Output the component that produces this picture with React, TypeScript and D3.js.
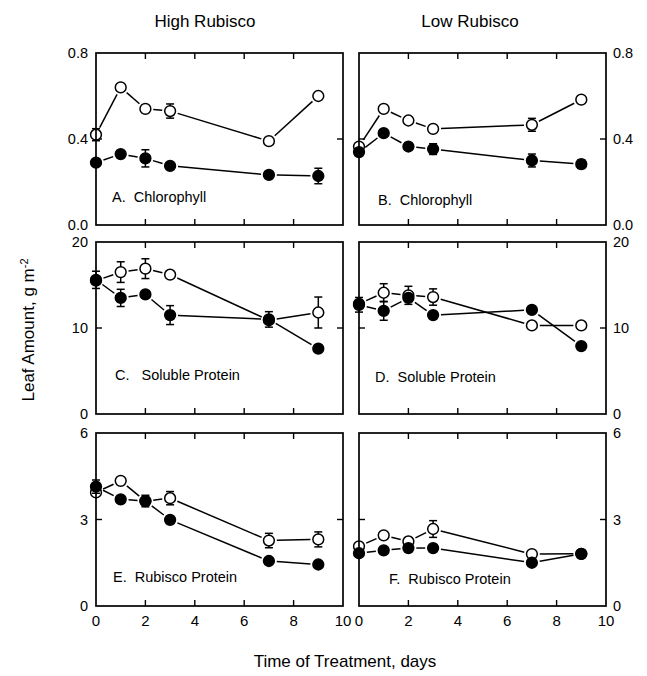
import * as d3 from "d3";

// days sampled
const days = [0, 1, 2, 3, 7, 9];
const xTicks = [0, 2, 4, 6, 8, 10];

// A. Chlorophyll, High Rubisco
const chlHighOpen = [0.42, 0.64, 0.54, 0.53, 0.39, 0.6];
const chlHighOpenErr = [0.028, 0, 0, 0.033, 0, 0];
const chlHighFilled = [0.29, 0.33, 0.31, 0.275, 0.233, 0.228];
const chlHighFilledErr = [0, 0, 0.04, 0, 0, 0.036];

// B. Chlorophyll, Low Rubisco
const chlLowOpen = [0.365, 0.54, 0.486, 0.447, 0.466, 0.583];
const chlLowOpenErr = [0, 0, 0, 0, 0.03, 0];
const chlLowFilled = [0.339, 0.427, 0.365, 0.353, 0.3, 0.283];
const chlLowFilledErr = [0, 0, 0, 0.025, 0.03, 0.02];

// C. Soluble protein, High Rubisco
const solHighOpen = [15.5, 16.5, 16.9, 16.2, 10.9, 11.8];
const solHighOpenErr = [0, 1.2, 1.15, 0, 0, 1.8];
const solHighFilled = [15.6, 13.5, 13.9, 11.5, 11.0, 7.6];
const solHighFilledErr = [1.0, 1.0, 0, 1.1, 0.9, 0];

// D. Soluble protein, Low Rubisco
const solLowOpen = [12.8, 14.1, 13.8, 13.6, 10.3, 10.3];
const solLowOpenErr = [0, 1.05, 1.05, 0.95, 0, 0];
const solLowFilled = [12.7, 12.0, 13.5, 11.5, 12.1, 7.9];
const solLowFilledErr = [0.85, 1.1, 0, 0, 0, 0];

// E. Rubisco protein, High Rubisco
const rubHighOpen = [3.94, 4.34, 3.64, 3.74, 2.27, 2.31];
const rubHighOpenErr = [0, 0, 0, 0.23, 0.25, 0.26];
const rubHighFilled = [4.14, 3.7, 3.64, 2.99, 1.56, 1.44];
const rubHighFilledErr = [0.23, 0, 0.2, 0, 0, 0];

// F. Rubisco protein, Low Rubisco
const rubLowOpen = [2.07, 2.45, 2.24, 2.67, 1.8, 1.81];
const rubLowOpenErr = [0, 0, 0, 0.29, 0, 0];
const rubLowFilled = [1.83, 1.93, 2.01, 2.01, 1.5, 1.81];
const rubLowFilledErr = [0, 0, 0, 0, 0, 0];

const chlTicks = [0, 0.4, 0.8];
const chlTickLabels = ["0.0", "0.4", "0.8"];
const solTicks = [0, 10, 20];
const solTickLabels = ["0", "10", "20"];
const rubTicks = [0, 3, 6];
const rubTickLabels = ["0", "3", "6"];

const FONT = "'Liberation Sans', Arial, Helvetica, sans-serif";
const R = 5.4;
const GAP = 2.5;

const cols = [
  { x0: 96, x1: 343 },
  { x0: 359, x1: 606 },
];
const rows = [
  { y0: 53, y1: 225 },
  { y0: 242, y1: 414 },
  { y0: 433, y1: 606 },
];

const panels = [
  { col: 0, row: 0, label: "A.  Chlorophyll", open: chlHighOpen, openErr: chlHighOpenErr, filled: chlHighFilled, filledErr: chlHighFilledErr, ticks: chlTicks, tickLabels: chlTickLabels, lx: 16, ly: 23 },
  { col: 1, row: 0, label: "B.  Chlorophyll", open: chlLowOpen, openErr: chlLowOpenErr, filled: chlLowFilled, filledErr: chlLowFilledErr, ticks: chlTicks, tickLabels: chlTickLabels, lx: 19, ly: 20 },
  { col: 0, row: 1, label: "C.   Soluble Protein", open: solHighOpen, openErr: solHighOpenErr, filled: solHighFilled, filledErr: solHighFilledErr, ticks: solTicks, tickLabels: solTickLabels, lx: 19, ly: 34 },
  { col: 1, row: 1, label: "D.  Soluble Protein", open: solLowOpen, openErr: solLowOpenErr, filled: solLowFilled, filledErr: solLowFilledErr, ticks: solTicks, tickLabels: solTickLabels, lx: 16, ly: 32 },
  { col: 0, row: 2, label: "E.  Rubisco Protein", open: rubHighOpen, openErr: rubHighOpenErr, filled: rubHighFilled, filledErr: rubHighFilledErr, ticks: rubTicks, tickLabels: rubTickLabels, lx: 17, ly: 24 },
  { col: 1, row: 2, label: "F.  Rubisco Protein", open: rubLowOpen, openErr: rubLowOpenErr, filled: rubLowFilled, filledErr: rubLowFilledErr, ticks: rubTicks, tickLabels: rubTickLabels, lx: 30, ly: 22 },
];

// connecting segments that stop short of the markers
function gappedSegments(pts: [number, number][]) {
  const segs: [number, number, number, number][] = [];
  for (let i = 0; i < pts.length - 1; i++) {
    const [ax, ay] = pts[i];
    const [bx, by] = pts[i + 1];
    const len = Math.hypot(bx - ax, by - ay);
    const cut = R + GAP;
    if (len <= 2 * cut + 1) continue;
    const ux = (bx - ax) / len;
    const uy = (by - ay) / len;
    segs.push([ax + ux * cut, ay + uy * cut, bx - ux * cut, by - uy * cut]);
  }
  return segs;
}

function Panel({ p }: { p: (typeof panels)[number] }) {
  const { x0, x1 } = cols[p.col];
  const { y0, y1 } = rows[p.row];
  const x = d3.scaleLinear().domain([0, 10]).range([x0, x1]);
  const y = d3.scaleLinear().domain([0, p.ticks[2]]).range([y1, y0]);
  const right = p.col === 1;
  const bottom = p.row === 2;

  const series = [
    { vals: p.open, errs: p.openErr, filled: false },
    { vals: p.filled, errs: p.filledErr, filled: true },
  ];

  return (
    <g>
      {/* inward ticks */}
      {[2, 4, 6, 8].map((t) => (
        <g key={t}>
          <line x1={x(t)} x2={x(t)} y1={y0} y2={y0 + 6} stroke="#000" strokeWidth={1.4} />
          <line x1={x(t)} x2={x(t)} y1={y1} y2={y1 - 6} stroke="#000" strokeWidth={1.4} />
        </g>
      ))}
      <line x1={x0} x2={x0 + 6} y1={y(p.ticks[1])} y2={y(p.ticks[1])} stroke="#000" strokeWidth={1.4} />
      <line x1={x1} x2={x1 - 6} y1={y(p.ticks[1])} y2={y(p.ticks[1])} stroke="#000" strokeWidth={1.4} />

      {/* y tick labels */}
      {p.ticks.map((t, i) => (
        <text
          key={t}
          x={right ? x1 + 7 : x0 - 8}
          y={y(t)}
          dy="0.36em"
          textAnchor={right ? "start" : "end"}
          fontSize={14.5}
          fontFamily={FONT}
        >
          {p.tickLabels[i]}
        </text>
      ))}

      {/* x tick labels */}
      {bottom &&
        xTicks.map((t) => (
          <text key={t} x={x(t)} y={y1 + 20} textAnchor="middle" fontSize={15} fontFamily={FONT}>
            {t}
          </text>
        ))}

      {/* lines */}
      {series.map((s, si) => {
        const pts = days.map((d, i) => [x(d), y(s.vals[i])] as [number, number]);
        return gappedSegments(pts).map((sg, k) => (
          <line key={`${si}-${k}`} x1={sg[0]} y1={sg[1]} x2={sg[2]} y2={sg[3]} stroke="#000" strokeWidth={1.5} />
        ));
      })}

      {/* error bars and markers */}
      {series.map((s, si) => (
        <g key={si}>
          {days.map((d, i) =>
            s.errs[i] > 0 ? (
              <g key={i} stroke="#000" strokeWidth={1.5}>
                <line x1={x(d)} x2={x(d)} y1={y(s.vals[i] - s.errs[i])} y2={y(s.vals[i] + s.errs[i])} />
                <line x1={x(d) - 4} x2={x(d) + 4} y1={y(s.vals[i] - s.errs[i])} y2={y(s.vals[i] - s.errs[i])} />
                <line x1={x(d) - 4} x2={x(d) + 4} y1={y(s.vals[i] + s.errs[i])} y2={y(s.vals[i] + s.errs[i])} />
              </g>
            ) : null
          )}
          {days.map((d, i) => (
            <circle
              key={i}
              cx={x(d)}
              cy={y(s.vals[i])}
              r={R}
              fill={s.filled ? "#000" : "#fff"}
              stroke="#000"
              strokeWidth={1.5}
            />
          ))}
        </g>
      ))}

      {/* frame */}
      <rect x={x0} y={y0} width={x1 - x0} height={y1 - y0} fill="none" stroke="#000" strokeWidth={1.7} />

      <text
        x={x0 + p.lx}
        y={y1 - p.ly}
        fontSize={14.5}
        fontFamily={FONT}
        style={{ whiteSpace: "pre" }}
      >
        {p.label}
      </text>
    </g>
  );
}

export default function App() {
  return (
    <svg
      width={647}
      height={676}
      style={{ position: "absolute", left: 0, top: 0, background: "#fff" }}
    >
      <rect width={647} height={676} fill="#fff" />
      <text x={205} y={27} textAnchor="middle" fontSize={17} fontFamily={FONT}>
        High Rubisco
      </text>
      <text x={470} y={27} textAnchor="middle" fontSize={17} fontFamily={FONT}>
        Low Rubisco
      </text>
      {panels.map((p, i) => (
        <Panel key={i} p={p} />
      ))}
      <text
        transform="translate(34,330) rotate(-90)"
        textAnchor="middle"
        fontSize={17}
        fontFamily={FONT}
      >
        Leaf Amount, g m<tspan dy={-6} fontSize={11}>-2</tspan>
      </text>
      <text x={345} y={667} textAnchor="middle" fontSize={17} fontFamily={FONT}>
        Time of Treatment, days
      </text>
    </svg>
  );
}
